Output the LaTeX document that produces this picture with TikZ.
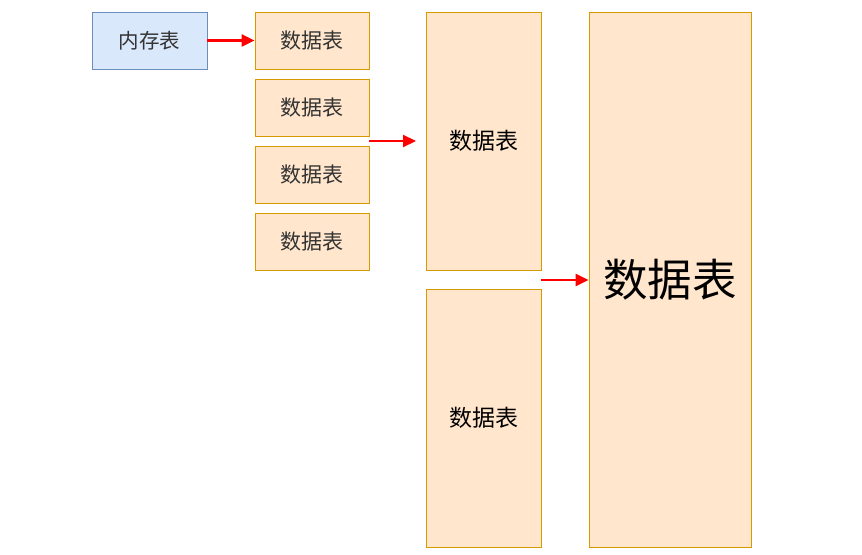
\documentclass[tikz,border=0pt]{standalone}
\usepackage{fontspec}
\newfontfamily\cjk{Noto Sans CJK SC}
\usetikzlibrary{arrows.meta}
\definecolor{bluefill}{HTML}{DAE8FC}
\definecolor{blueline}{HTML}{6C8EBF}
\definecolor{orfill}{HTML}{FFE6CC}
\definecolor{orline}{HTML}{D79B00}
\definecolor{txtgray}{HTML}{333333}
\tikzset{
  px/.style={x=1bp,y=-1bp},
  memtab/.style={draw=blueline,fill=bluefill,line width=0.8bp,text=txtgray,font=\cjk\fontsize{20.5bp}{24bp}\selectfont},
  smalltab/.style={draw=orline,fill=orfill,line width=0.8bp,text=txtgray,font=\cjk\fontsize{21bp}{24bp}\selectfont},
  midtab/.style={draw=orline,fill=orfill,line width=0.8bp,text=black,font=\cjk\fontsize{23bp}{26bp}\selectfont},
  bigtab/.style={draw=orline,fill=orfill,line width=0.8bp,text=black,font=\cjk\fontsize{44.5bp}{50bp}\selectfont},
  redarrow/.style={draw=red,line width=2.2bp,-{Triangle[length=13bp,width=12bp]}}
}
\begin{document}
\begin{tikzpicture}[px]
\useasboundingbox (0,0) rectangle (862,555);
\node[memtab,minimum width=115bp,minimum height=57bp] (mem) at (149.5,40.5) {内存表};
\node[smalltab,minimum width=114bp,minimum height=57bp] (s1) at (312,40.5) {数据表};
\node[smalltab,minimum width=114bp,minimum height=57bp] (s2) at (312,107.5) {数据表};
\node[smalltab,minimum width=114bp,minimum height=57bp] (s3) at (312,174.5) {数据表};
\node[smalltab,minimum width=114bp,minimum height=57bp] (s4) at (312,241.5) {数据表};
\node[midtab,minimum width=115bp,minimum height=258bp] (m1) at (483.5,141) {数据表};
\node[midtab,minimum width=115bp,minimum height=258bp] (m2) at (483.5,418) {数据表};
\node[bigtab,minimum width=162bp,minimum height=535bp] (big) at (670,279.5) {数据表};
\coordinate (a2s) at (369,141);
\coordinate (a2e) at (416,141);
\coordinate (a3s) at (541,280);
\draw[redarrow] (mem.east) -- (s1.west);
\draw[redarrow] (a2s) -- (a2e);
\draw[redarrow] (a3s) -- (big.west |- a3s);
\end{tikzpicture}
\end{document}
